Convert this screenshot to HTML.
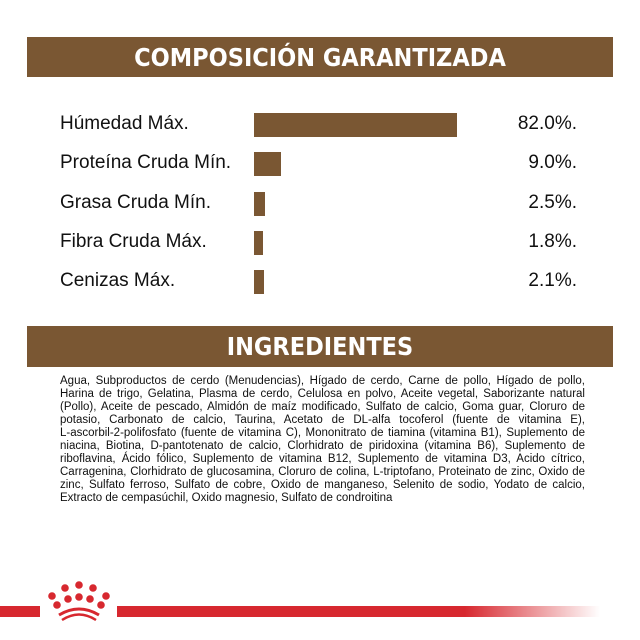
<!DOCTYPE html>
<html><head><meta charset="utf-8"><style>
body{margin:0;width:640px;height:640px;background:#fff;position:relative;overflow:hidden;font-family:"Liberation Sans",sans-serif}
.band{position:absolute;left:27px;width:586px;background:#7a5733;color:#fff;font-weight:bold;text-align:center}
.lbl{position:absolute;left:60px;font-size:19px;color:#111}
.val{position:absolute;right:63px;font-size:19px;color:#111}
.bar{position:absolute;background:#7a5733}
#ing{position:absolute;left:60px;top:375px;width:525px;font-size:11.5px;line-height:13px;color:#111}
#ing span{display:block;white-space:nowrap;text-align:justify;text-align-last:justify}
#ing span:last-child{text-align-last:left}
</style></head><body>
<div class="band" style="top:37px;height:40px;line-height:42px;font-size:25px;font-family:'DejaVu Sans Condensed','Liberation Sans Narrow',sans-serif">COMPOSICIÓN GARANTIZADA</div>
<div id="chart"></div>
<div class="band" style="top:326px;height:41px;line-height:42px;font-size:25px;font-family:'DejaVu Sans Condensed','Liberation Sans Narrow',sans-serif">INGREDIENTES</div>
<div id="ing"><span>Agua, Subproductos de cerdo (Menudencias), Hígado de cerdo, Carne de pollo, Hígado de pollo,</span><span>Harina de trigo, Gelatina, Plasma de cerdo, Celulosa en polvo, Aceite vegetal, Saborizante natural</span><span>(Pollo), Aceite de pescado, Almidón de maíz modificado, Sulfato de calcio, Goma guar, Cloruro de</span><span>potasio, Carbonato de calcio, Taurina, Acetato de DL-alfa tocoferol (fuente de vitamina E),</span><span>L-ascorbil-2-polifosfato (fuente de vitamina C), Mononitrato de tiamina (vitamina B1), Suplemento de</span><span>niacina, Biotina, D-pantotenato de calcio, Clorhidrato de piridoxina (vitamina B6), Suplemento de</span><span>riboflavina, Ácido fólico, Suplemento de vitamina B12, Suplemento de vitamina D3, Acido cítrico,</span><span>Carragenina, Clorhidrato de glucosamina, Cloruro de colina, L-triptofano, Proteinato de zinc, Oxido de</span><span>zinc, Sulfato ferroso, Sulfato de cobre, Oxido de manganeso, Selenito de sodio, Yodato de calcio,</span><span>Extracto de cempasúchil, Oxido magnesio, Sulfato de condroitina</span></div>
<svg style="position:absolute;left:0;top:575px" width="640" height="50">
<defs><linearGradient id="g" x1="0" x2="1"><stop offset="0.72" stop-color="#d7282f"/><stop offset="1" stop-color="#d7282f" stop-opacity="0"/></linearGradient></defs>
<rect x="0" y="31" width="40" height="11" fill="#d7282f"/>
<rect x="117" y="31" width="483" height="11" fill="url(#g)"/>
<g fill="#d7282f">
<circle cx="52" cy="21" r="3.8"/><circle cx="65" cy="13" r="3.8"/><circle cx="79" cy="10" r="3.8"/><circle cx="93" cy="13" r="3.8"/><circle cx="106" cy="21" r="3.8"/>
<circle cx="57" cy="30" r="3.8"/><circle cx="68" cy="24" r="3.8"/><circle cx="79" cy="22" r="3.8"/><circle cx="90" cy="24" r="3.8"/><circle cx="101" cy="30" r="3.8"/>
<path d="M59 40 Q79 28 99 40" stroke="#d7282f" stroke-width="3" fill="none"/><path d="M62 45 Q79 34 96 45" stroke="#d7282f" stroke-width="2.5" fill="none"/>
</g></svg>
<script>
const categories=["Húmedad Máx.","Proteína Cruda Mín.","Grasa Cruda Mín.","Fibra Cruda Máx.","Cenizas Máx."];
const values=[82.0,9.0,2.5,1.8,2.1];
const valueLabels=["82.0%.","9.0%.","2.5%.","1.8%.","2.1%."];
const chart=document.getElementById('chart');
function xw(v){return 5+v*2.42;}
function yc(i){return 125+i*39.3;}
categories.forEach((c,i)=>{
 const l=document.createElement('div');l.className='lbl';l.textContent=c;l.style.top=(yc(i)-12)+'px';
 
 
 chart.appendChild(l);
 const b=document.createElement('div');b.className='bar';
 b.style.left='254px';b.style.top=(yc(i)-12)+'px';b.style.height='24px';b.style.width=xw(values[i])+'px';
 
 
 chart.appendChild(b);
 const v=document.createElement('div');v.className='val';v.textContent=valueLabels[i];v.style.top=(yc(i)-12)+'px';
 
 
 chart.appendChild(v);
});
</script>
</body></html>
